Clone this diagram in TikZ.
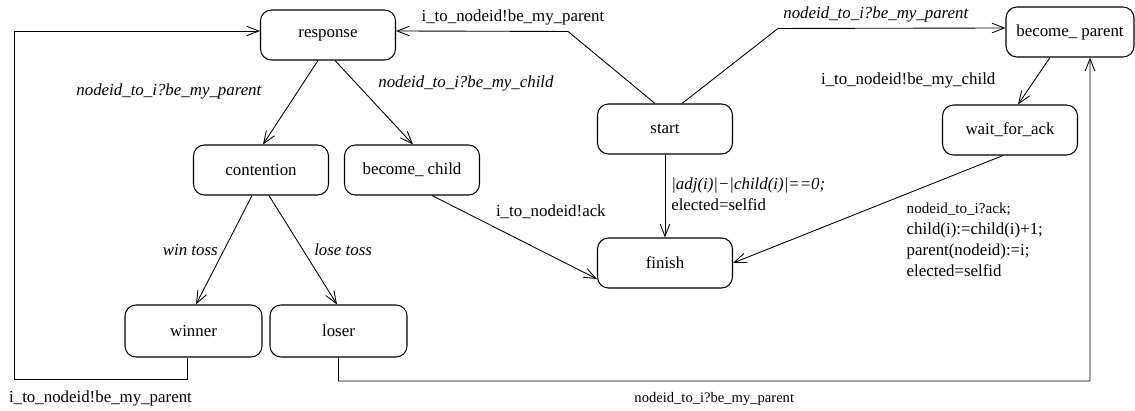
\documentclass[tikz,border=0pt]{standalone}
\usepackage{fontspec}
\setmainfont{Liberation Serif}
\usepackage{tikz}
\usetikzlibrary{positioning}
\usetikzlibrary{arrows.meta}

\newcommand{\labsize}{\fontsize{9.6}{12}\selectfont}
\newcommand{\tinysize}{\fontsize{8.3}{10}\selectfont}

\begin{document}
\begin{tikzpicture}[on grid,auto, font=\labsize,
        >={Straight Barb[length=7pt,width=5.5pt]}, line width=0.5pt,
        state/.style={draw, line width=0.6pt, rounded corners=2.2mm, minimum width=2.7cm, minimum height=1cm},
        leaf/.style={minimum width=2.74cm, minimum height=1.04cm},
        it/.style={font=\labsize\itshape}]

        \useasboundingbox (-6.56,0.7) rectangle (16.14,-7.5);

        \node[state]  (response)  {response};
        \node[state]  (start) [below right=1.88cm and 6.74cm of response] {start};
        \node[state]  (finish) [below=2.68cm of start] {finish};
        \node[state, minimum width=2.56cm]  (parent) [above right=1.94cm and 8.1cm of start] {become\_ parent};
        \node[state]  (ack) [below left=1.96cm and 1.2cm of parent] {wait\_for\_ack};

        \node[state]  (contention) [below left=2.7cm and 1.34cm of response] {contention};
        \node[state]  (child) [right=3.02cm of contention] {become\_ child};
        \node[state, leaf]  (winner) [below left=3.22cm and 1.35cm of contention] {winner};
        \node[state, leaf]  (loser) [right=2.9cm of winner] {loser};

        \coordinate (wl) at (-6.28,-6.88);
        \coordinate (rc) at (15.24,-6.92);

        \draw[->] ([xshift=-2mm]start.north) -- ++(-1.74,1.44)
          -- node[above, pos=0.32] {i\_to\_nodeid!be\_my\_parent} ([yshift=0.8mm]response.east);
        \draw[->] ([xshift=3.4mm]start.north) -- ++(1.92,1.5)
          -- node[above, pos=0.43, it] {nodeid\_to\_i?be\_my\_parent} ([yshift=0.8mm]parent.west);

        \draw[->] ([xshift=-2mm]response.south) -- node[left, pos=0.37, xshift=-6mm, it] {nodeid\_to\_i?be\_my\_parent} ([xshift=0.4mm]contention.north);
        \draw[->] ([xshift=1.4mm]response.south) -- node[right, pos=0.27, xshift=3.2mm, it] {nodeid\_to\_i?be\_my\_child} ([xshift=0.2mm]child.north);
        \draw[->] ([xshift=-4mm]parent.south) -- node[left, pos=0.48, xshift=-6.6mm] {i\_to\_nodeid!be\_my\_child} ([xshift=1.6mm]ack.north);

        \draw[->] ([xshift=-1.8mm]contention.south) -- node[left, midway, it] {win toss} ([xshift=0.5mm]winner.north);
        \draw[->] ([xshift=1.6mm]contention.south) -- node[right, midway, xshift=1mm, it] {lose toss} ([xshift=-0.3mm]loser.north);

        \draw[->] ([xshift=4mm]child.south) -- node[above right, pos=0.35] {i\_to\_nodeid!ack} ([yshift=-3.2mm]finish.west);
        \draw[->] (start) -- node[right, pos=0.48, align=left] {\textit{|adj(i)|−|child(i)|==0;}\\ elected=selfid} (finish);
        \draw[->] ([xshift=-1.4mm]ack.south) -- node[anchor=north west, pos=0.38, align=left]
          {{\fontsize{8.6}{10}\selectfont nodeid\_to\_i?ack;}\\ child(i):=child(i)+1;\\ parent(nodeid):=i;\\ elected=selfid} (finish.east);

        % return loops along the bottom
        \draw[->] ([xshift=-1.3mm]winner.south) |- node[below, pos=0.75, yshift=-1mm] {i\_to\_nodeid!be\_my\_parent} (wl)
          |- ([yshift=0.8mm]response.west);
        \draw[->] (loser.south) |- node[below, pos=0.75, yshift=-1mm, font=\tinysize] {nodeid\_to\_i?be\_my\_parent} (rc)
          -- ([xshift=4mm]parent.south);

      \end{tikzpicture}
\end{document}
